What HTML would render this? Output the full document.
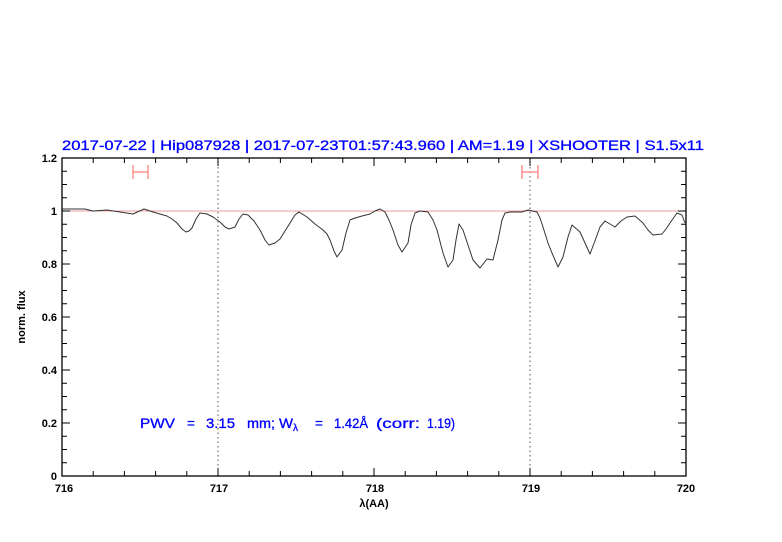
<!DOCTYPE html>
<html><head><meta charset="utf-8"><style>body{margin:0;background:#fff}svg{display:block}</style></head><body>
<svg width="782" height="542" xmlns="http://www.w3.org/2000/svg" font-family="'Liberation Sans',sans-serif">
<rect width="782" height="542" fill="#fff"/>
<line x1="62" y1="211" x2="686" y2="211" stroke="#e99" stroke-width="1"/>
<line x1="218" y1="158" x2="218" y2="476" stroke="#555" stroke-dasharray="1.5,3"/>
<line x1="530" y1="158" x2="530" y2="476" stroke="#555" stroke-dasharray="1.5,3"/>
<g stroke="#f77" stroke-width="1.2">
<line x1="133" y1="172" x2="148" y2="172"/><line x1="133" y1="165" x2="133" y2="179"/><line x1="148" y1="165" x2="148" y2="179"/>
<line x1="522" y1="172" x2="538" y2="172"/><line x1="522" y1="165" x2="522" y2="179"/><line x1="538" y1="165" x2="538" y2="179"/>
</g>
<polyline fill="none" stroke="#333" stroke-width="1" stroke-linejoin="round" points="62,209 65,209 72,209 85,209 93,211 107,210 120,212 133,214 144,209 153,212 167,216 172,219 177,223 182,229 186,232 189,231 192,228 196,219 200,213 207,214 213,217 220,222 225,227 229,229 235,227 239,219 243,214 248,215 254,221 260,230 265,240 269,245 275,243 280,239 285,231 290,223 295,215 299,212 307,217 315,224 323,230 327,234 330,240 334,251 337,257 342,250 346,233 350,220 355,218 362,216 370,214 375,211 380,209 385,212 389,220 393,230 398,245 402,252 408,243 411,225 415,213 420,211 428,212 433,220 437,230 443,253 448,267 453,260 456,240 459,224 463,230 468,245 473,260 480,268 487,259 493,260 498,240 502,220 505,213 510,212 522,212 528,210 537,212 540,218 543,227 548,243 552,253 558,267 563,257 568,237 572,225 580,232 585,243 590,254 596,238 600,227 605,221 615,227 621,221 627,217 635,216 643,223 648,230 653,235 662,234 666,229 670,223 677,213 682,215 685,223"/>
<rect x="62" y="158" width="624" height="318" fill="none" stroke="#000" stroke-width="1.3"/>
<path stroke="#000" stroke-width="1" fill="none" d="
M62,476v-8M218,476v-8M374,476v-8M530,476v-8M686,476v-8
M62,158v8M218,158v8M374,158v8M530,158v8M686,158v8
M93.2,476v-5M124.4,476v-5M155.6,476v-5M186.8,476v-5M249.2,476v-5M280.4,476v-5M311.6,476v-5M342.8,476v-5M405.2,476v-5M436.4,476v-5M467.6,476v-5M498.8,476v-5M561.2,476v-5M592.4,476v-5M623.6,476v-5M654.8,476v-5
M93.2,158v5M124.4,158v5M155.6,158v5M186.8,158v5M249.2,158v5M280.4,158v5M311.6,158v5M342.8,158v5M405.2,158v5M436.4,158v5M467.6,158v5M498.8,158v5M561.2,158v5M592.4,158v5M623.6,158v5M654.8,158v5
M62,476h8M62,423h8M62,370h8M62,317h8M62,264h8M62,211h8M62,158h8
M686,476h-8M686,423h-8M686,370h-8M686,317h-8M686,264h-8M686,211h-8M686,158h-8
M62,462.75h5M62,449.5h5M62,436.25h5M62,409.75h5M62,396.5h5M62,383.25h5M62,356.75h5M62,343.5h5M62,330.25h5M62,303.75h5M62,290.5h5M62,277.25h5M62,250.75h5M62,237.5h5M62,224.25h5M62,197.75h5M62,184.5h5M62,171.25h5
M686,462.75h-5M686,449.5h-5M686,436.25h-5M686,409.75h-5M686,396.5h-5M686,383.25h-5M686,356.75h-5M686,343.5h-5M686,330.25h-5M686,303.75h-5M686,290.5h-5M686,277.25h-5M686,250.75h-5M686,237.5h-5M686,224.25h-5M686,197.75h-5M686,184.5h-5M686,171.25h-5"/>
<g font-size="11" font-weight="bold" fill="#000" text-anchor="end">
<text x="57" y="480">0</text><text x="57" y="427">0.2</text><text x="57" y="374">0.4</text><text x="57" y="321">0.6</text><text x="57" y="268">0.8</text><text x="57" y="215">1</text><text x="57" y="162">1.2</text>
</g>
<g font-size="11" font-weight="bold" fill="#000" text-anchor="middle">
<text x="64" y="492">716</text><text x="219" y="492">717</text><text x="375" y="492">718</text><text x="531" y="492">719</text><text x="686" y="492">720</text>
<text x="374" y="507">λ(AA)</text>
<text transform="translate(25,317) rotate(-90)">norm. flux</text>
</g>
<text x="62" y="150" font-size="13.5" fill="#00f" stroke="#00f" stroke-width="0.3" textLength="642" lengthAdjust="spacingAndGlyphs">2017-07-22 | Hip087928 | 2017-07-23T01:57:43.960 | AM=1.19 | XSHOOTER | S1.5x11</text>
<g font-size="13.5" fill="#00f" stroke="#00f" stroke-width="0.3">
<text x="140" y="428" textLength="35" lengthAdjust="spacingAndGlyphs">PWV</text>
<text x="187" y="428">=</text>
<text x="206" y="428" textLength="29" lengthAdjust="spacingAndGlyphs">3.15</text>
<text x="247" y="428" textLength="28" lengthAdjust="spacingAndGlyphs">mm;</text>
<text x="279" y="428" textLength="14" lengthAdjust="spacingAndGlyphs">W</text>
<text x="293" y="431" font-size="10">λ</text>
<text x="315" y="428">=</text>
<text x="334" y="428" textLength="34" lengthAdjust="spacingAndGlyphs">1.42Å</text>
<text x="376" y="428" textLength="44" lengthAdjust="spacingAndGlyphs">(corr:</text>
<text x="427" y="428" textLength="28" lengthAdjust="spacingAndGlyphs">1.19)</text>
</g>
</svg>
</body></html>
